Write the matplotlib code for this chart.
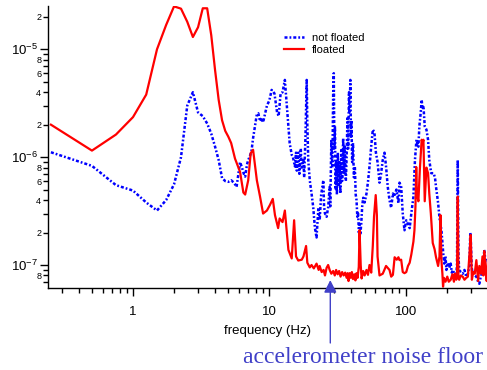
import matplotlib
matplotlib.use("Agg")
import matplotlib.pyplot as plt
from matplotlib.ticker import LogLocator, FuncFormatter, NullFormatter, FixedLocator

plt.rcParams['font.family'] = ['Liberation Sans', 'DejaVu Sans']
plt.rcParams['mathtext.default'] = 'regular'
plt.rcParams['lines.scale_dashes'] = False

# ---------------- data ----------------
floated_f = [0.25, 0.5, 0.75, 1.0, 1.25, 1.5, 1.75, 2.0, 2.25, 2.5, 2.75, 3.0, 3.25, 3.5, 3.75,
             4.0, 4.25, 4.5, 4.75, 5.0, 5.25, 5.6, 6.1, 6.45, 6.65, 7.0, 7.3, 7.6, 8.1, 8.55,
             9.0, 9.6, 10.1, 10.6, 11.0, 11.6, 11.9, 12.5, 13.0, 13.4, 13.8, 14.6, 15.2, 15.7,
             16.3, 17.3, 17.8, 18.6, 19.0, 19.8, 20.4, 21.2, 22.2, 23.0, 23.4, 24.2, 25.0, 25.6,
             26.3, 27.0, 27.7, 28.5, 29.4, 30.2, 30.9, 31.7, 32.5, 33.3, 34.2, 35.1, 36.0, 36.9,
             37.5, 38.1, 38.8, 39.6, 40.3, 41.1, 42.0, 42.8, 43.6, 44.4, 45.3, 45.9, 46.8, 47.5,
             48.8, 50.0, 51.6, 52.9, 54.3, 55.9, 57.4, 58.6, 60.3, 61.5, 62.2, 64.3, 67.9, 71.8,
             76.1, 78.3, 80.6, 83.0, 86.0, 88.5, 90.1, 92.7, 95.2, 98.0, 101.0, 104.0, 107.0,
             110.0, 114.0, 116.0, 118.0, 119.5, 121.0, 124.0, 127.0, 131.0, 133.0, 135.0, 138.0,
             142.0, 146.0, 149.0, 153.0, 158.0, 163.0, 167.0, 173.0, 177.0, 180.0, 183.0, 186.0,
             188.0, 191.0, 196.0, 202.0, 207.0, 214.0, 220.0, 226.0, 229.0, 235.0, 238.0, 241.0,
             244.0, 247.0, 254.0, 262.0, 270.0, 278.0, 286.0, 293.0, 300.0, 306.0, 313.0, 321.0,
             330.0, 340.0, 347.0, 357.0, 366.0, 372.0, 377.0, 385.0, 393.0, 400.0]
floated_a = [2.0e-6, 1.15e-6, 1.62e-6, 2.35e-6, 3.8e-6, 1.0e-5, 1.68e-5, 2.5e-5, 2.38e-5, 1.8e-5,
             1.3e-5, 1.6e-5, 2.4e-5, 2.4e-5, 1.35e-5, 6.4e-6, 3.4e-6, 2.2e-6, 1.75e-6, 1.55e-6,
             1.35e-6, 9.7e-7, 7.3e-7, 4.7e-7, 4.5e-7, 6.1e-7, 1.09e-6, 1.17e-6, 6.1e-7, 4.3e-7,
             3.0e-7, 3.2e-7, 3.6e-7, 4.1e-7, 2.9e-7, 2.2e-7, 2.7e-7, 2.5e-7, 3.2e-7, 2.1e-7,
             1.38e-7, 1.15e-7, 2.6e-7, 1.2e-7, 1.1e-7, 1.12e-7, 1.2e-7, 1.5e-7, 1.05e-7, 9.5e-8,
             1.0e-7, 9.3e-8, 1.03e-7, 9.0e-8, 9.8e-8, 8.6e-8, 9.0e-8, 8.0e-8, 9.4e-8, 1.0e-7,
             9.0e-8, 8.3e-8, 8.8e-8, 8.0e-8, 9.0e-8, 8.2e-8, 8.8e-8, 7.8e-8, 8.6e-8, 8.0e-8,
             8.5e-8, 7.6e-8, 8.4e-8, 7.1e-8, 8.4e-8, 7.6e-8, 8.6e-8, 7.4e-8, 8.2e-8, 7.2e-8,
             8.4e-8, 7.6e-8, 9.6e-8, 2.1e-7, 1.0e-7, 7.5e-8, 8.8e-8, 8.0e-8, 9.0e-8, 8.1e-8,
             1.0e-7, 8.5e-8, 1.5e-7, 2.8e-7, 4.45e-7, 2.9e-7, 1.2e-7, 8.0e-8, 8.3e-8, 9.8e-8,
             9.0e-8, 7.8e-8, 8.1e-8, 1.18e-7, 1.12e-7, 1.18e-7, 1.11e-7, 1.12e-7, 8.6e-8, 8.4e-8,
             8.6e-8, 9.8e-8, 1.05e-7, 1.25e-7, 1.65e-7, 2.1e-7, 3.5e-7, 8.1e-7, 4.5e-7, 3.9e-7,
             7.6e-7, 1.45e-6, 1.35e-6, 1.45e-6, 3.9e-7, 8.0e-7, 7.1e-7, 4.6e-7, 3.0e-7, 1.6e-7,
             1.4e-7, 1.18e-7, 9.8e-8, 1.2e-7, 2.9e-7, 1.1e-7, 8.3e-8, 6.3e-8, 7.6e-8, 7.0e-8,
             7.8e-8, 7.0e-8, 7.3e-8, 8.2e-8, 7.0e-8, 8.3e-8, 7.3e-8, 8.0e-8, 4.3e-7, 7.5e-8,
             7.3e-8, 8.0e-8, 7.8e-8, 7.3e-8, 7.6e-8, 7.8e-8, 1.2e-7, 1.9e-7, 7.3e-8, 8.6e-8,
             8.3e-8, 1.11e-7, 7.1e-8, 9.8e-8, 8.3e-8, 1.2e-7, 8.0e-8, 1.35e-7, 9.0e-8, 7.1e-8,
             1.1e-7]

notfloated_f = [0.25, 0.5, 0.75, 1.0, 1.25, 1.5, 1.75, 2.0, 2.25, 2.5, 2.75, 3.0, 3.25, 3.5, 3.75,
                4.0, 4.25, 4.5, 4.75, 5.0, 5.25, 5.5, 5.75, 6.1, 6.3, 6.5, 6.65, 6.85, 7.0, 7.2,
                7.4, 7.6, 7.85, 8.1, 8.3, 8.55, 8.8, 9.0, 9.6, 10.0, 10.4, 10.9, 11.4, 11.7, 12.1,
                12.5, 13.0, 13.3, 13.8, 14.1, 14.6, 14.9, 15.4, 15.7, 15.9, 16.3, 16.6, 17.0, 17.3,
                17.8, 18.0, 18.4, 18.8, 19.0, 19.3, 19.8, 20.4, 21.0, 21.6, 22.2, 22.9, 23.4, 24.0,
                24.9, 25.2, 25.6, 26.3, 27.0, 27.7, 28.0, 28.5, 29.0, 29.4, 29.7, 30.0, 30.3, 30.6,
                30.9, 31.3, 31.8, 32.3, 32.8, 33.2, 33.7, 34.2, 34.8, 35.3, 35.8, 36.4, 36.9, 37.4,
                37.9, 38.4, 38.8, 39.3, 39.7, 40.0, 40.5, 41.1, 41.7, 42.4, 43.0, 43.6, 44.2, 44.8,
                45.4, 45.9, 46.5, 47.2, 48.0, 48.8, 50.0, 51.6, 53.0, 54.3, 56.0, 57.4, 59.0, 60.5,
                62.2, 64.3, 66.0, 67.9, 70.0, 71.8, 73.9, 76.1, 78.3, 80.6, 82.6, 85.5, 88.5, 90.1,
                92.7, 95.2, 98.0, 101.0, 104.0, 107.0, 110.0, 114.0, 117.0, 120.0, 124.0, 126.0,
                129.0, 131.0, 133.0, 135.0, 138.0, 142.0, 146.0, 149.0, 154.0, 160.0, 164.0, 167.0,
                173.0, 177.0, 183.0, 189.0, 192.0, 196.0, 199.0, 204.0, 209.0, 214.0, 218.0, 222.0,
                228.0, 235.0, 238.0, 241.0, 244.0, 247.0, 254.0, 262.0, 270.0, 278.0, 286.0, 293.0,
                298.0, 300.0, 305.0, 310.0, 320.0, 330.0, 340.0, 347.0, 357.0, 366.0, 372.0, 377.0,
                385.0, 393.0, 400.0]
notfloated_a = [1.11e-6, 8.3e-7, 5.5e-7, 4.9e-7, 3.8e-7, 3.2e-7, 4.0e-7, 5.6e-7, 1.0e-6, 3.0e-6,
                4.0e-6, 2.6e-6, 2.4e-6, 2.05e-6, 1.65e-6, 1.25e-6, 9.4e-7, 6.4e-7, 6.0e-7, 5.9e-7,
                6.1e-7, 5.8e-7, 5.3e-7, 9.0e-7, 8.0e-7, 7.0e-7, 6.6e-7, 8.5e-7, 9.4e-7, 1.02e-6,
                1.14e-6, 1.5e-6, 1.93e-6, 2.5e-6, 2.55e-6, 2.15e-6, 2.3e-6, 2.1e-6, 3.0e-6, 3.35e-6,
                4.2e-6, 3.9e-6, 2.6e-6, 2.4e-6, 3.9e-6, 4.0e-6, 5.2e-6, 3.6e-6, 1.93e-6, 1.35e-6,
                1.05e-6, 1.0e-6, 8.2e-7, 1.1e-6, 7.5e-7, 1.1e-6, 7.0e-7, 1.2e-6, 8.0e-7, 9.4e-7,
                6.5e-7, 1.5e-6, 5.2e-6, 2.0e-6, 9.4e-7, 6.1e-7, 4.6e-7, 3.4e-7, 2.2e-7, 1.8e-7,
                3.4e-7, 2.6e-7, 4.5e-7, 6.1e-7, 3.5e-7, 3.0e-7, 2.8e-7, 3.4e-7, 5.3e-7, 3.5e-7,
                1.45e-6, 8.0e-7, 3.9e-6, 6.0e-6, 1.2e-6, 1.93e-6, 5.0e-7, 9.0e-7, 4.5e-7, 1.1e-6,
                5.3e-7, 9.0e-7, 4.6e-7, 1.2e-6, 6.0e-7, 1.5e-6, 7.0e-7, 1.3e-6, 6.0e-7, 1.0e-6,
                2.3e-6, 1.2e-6, 4.0e-6, 2.55e-6, 5.2e-6, 1.5e-6, 2.2e-6, 9.0e-7, 1.35e-6, 6.5e-7,
                8.2e-7, 4.5e-7, 4.0e-7, 2.8e-7, 3.0e-7, 2.0e-7, 2.4e-7, 1.9e-7, 2.4e-7, 3.5e-7,
                4.2e-7, 3.8e-7, 4.6e-7, 6.0e-7, 8.2e-7, 1.3e-6, 1.8e-6, 1.7e-6, 1.1e-6, 9.0e-7,
                5.8e-7, 7.0e-7, 9.4e-7, 1.1e-6, 8.2e-7, 5.3e-7, 4.0e-7, 3.4e-7, 4.6e-7, 4.3e-7,
                5.0e-7, 3.75e-7, 5.8e-7, 5.3e-7, 3.0e-7, 2.1e-7, 2.6e-7, 2.4e-7, 2.2e-7, 3.0e-7,
                4.3e-7, 9.4e-7, 1.45e-6, 1.25e-6, 1.93e-6, 2.6e-6, 3.4e-6, 2.8e-6, 3.0e-6, 1.93e-6,
                1.8e-6, 1.45e-6, 9.4e-7, 7.1e-7, 7.1e-7, 6.5e-7, 5.3e-7, 3.75e-7, 2.75e-7, 2.1e-7,
                1.25e-7, 1.03e-7, 1.2e-7, 9.0e-8, 1.05e-7, 9.4e-8, 1.03e-7, 8.5e-8, 9.0e-8, 8.2e-8,
                7.8e-8, 1.0e-7, 9.4e-7, 1.2e-7, 9.0e-8, 8.6e-8, 8.3e-8, 9.0e-8, 7.8e-8, 8.3e-8,
                9.8e-8, 2.0e-7, 1.8e-7, 9.5e-8, 8.3e-8, 8.0e-8, 7.8e-8, 7.0e-8, 6.7e-8, 8.0e-8,
                8.3e-8, 1.05e-7, 1.38e-7, 1.1e-7, 1.1e-7, 1.05e-7]

series_labels = ["not floated", "floated"]
x_label = "frequency (Hz)"
annotation_text = "accelerometer noise floor"
noise_floor_freq = 28.0

# ---------------- figure ----------------
fig = plt.figure(figsize=(4.87, 3.70), dpi=100)
ax = fig.add_axes([47.5 / 487, 82 / 370, 439.5 / 487, 282 / 370])

px = 72.0 / 100.0  # points per pixel
ax.plot(notfloated_f, notfloated_a, color=(0, 0, 1), lw=1.8,
        linestyle=(0, (3 * px, 2 * px, 1.8 * px, 2 * px)), label=series_labels[0])
ax.plot(floated_f, floated_a, color=(1, 0, 0), lw=1.6, label=series_labels[1])

ax.set_xscale('log')
ax.set_yscale('log')
ax.set_xlim(0.236, 395)
ax.set_ylim(6.12e-8, 2.52e-5)

for s in ['top', 'right']:
    ax.spines[s].set_visible(False)
for s in ['left', 'bottom']:
    ax.spines[s].set_linewidth(1.0)

# x ticks
ax.xaxis.set_major_locator(FixedLocator([1, 10, 100]))
ax.xaxis.set_major_formatter(FuncFormatter(lambda v, p: f"{v:g}"))
ax.xaxis.set_minor_locator(LogLocator(base=10, subs=range(2, 10), numticks=20))
ax.xaxis.set_minor_formatter(NullFormatter())
ax.tick_params(axis='x', which='major', length=6, width=1, labelsize=9.5, pad=7)
ax.tick_params(axis='x', which='minor', length=3.5, width=1)

# y ticks
def ymajor(v, p):
    import math
    e = int(round(math.log10(v)))
    return r"$10^{%d}$" % e

def yminor(v, p):
    import math
    e = math.floor(math.log10(v) + 1e-9)
    m = int(round(v / 10 ** e))
    return str(m) if m in (2, 4, 6, 8) else ""

ax.yaxis.set_major_locator(LogLocator(base=10, numticks=10))
ax.yaxis.set_major_formatter(FuncFormatter(ymajor))
ax.yaxis.set_minor_locator(LogLocator(base=10, subs=range(2, 10), numticks=20))
ax.yaxis.set_minor_formatter(FuncFormatter(yminor))
ax.tick_params(axis='y', which='major', length=6, width=1, labelsize=9.5, pad=1)
ax.tick_params(axis='y', which='minor', length=3.5, width=1, labelsize=6.5, pad=1)

ax.set_xlabel(x_label, fontsize=9.5, labelpad=5)

leg = fig.legend(loc='upper left', bbox_to_anchor=(284 / 487, 1 - 33 / 370), frameon=False,
                 fontsize=8, handlelength=1.8, handletextpad=0.7, labelspacing=0.2,
                 borderpad=0, borderaxespad=0)

# accelerometer noise floor arrow + label
acol = '#4040c8'
ax.annotate('', xy=(noise_floor_freq, 0.028), xycoords=ax.get_xaxis_transform(),
            xytext=(noise_floor_freq, -0.195), textcoords=ax.get_xaxis_transform(),
            arrowprops=dict(arrowstyle='-|>,head_length=0.75,head_width=0.38',
                            mutation_scale=10, color=acol, lw=1.0,
                            shrinkA=0, shrinkB=0), annotation_clip=False)
fig.text(243 / 487, 1 - 363 / 370, annotation_text, fontsize=17,
         family=['Liberation Serif', 'DejaVu Serif'], color=acol, va='baseline', ha='left')

fig.savefig('out.png', dpi=100)
